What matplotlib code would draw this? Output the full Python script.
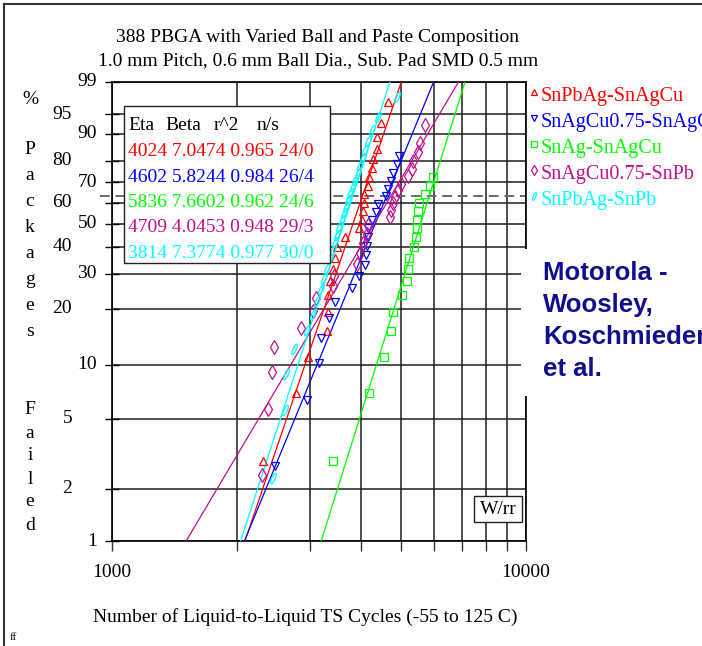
import numpy as np
import matplotlib
matplotlib.use("Agg")
import matplotlib.pyplot as plt
from matplotlib.path import Path
from matplotlib.lines import Line2D
from matplotlib.patches import Rectangle
from matplotlib.markers import MarkerStyle

plt.rcParams['font.family'] = ['Liberation Serif', 'DejaVu Serif']

# ---------------- data ----------------
series_names = ["SnPbAg-SnAgCu", "SnAgCu0.75-SnAgCu", "SnAg-SnAgCu",
                "SnAgCu0.75-SnPb", "SnPbAg-SnPb"]
series_colors = ["#ff0000", "#0000ff", "#00ff00", "#c0108c", "#00ffff"]

eta = [4024, 4602, 5836, 4709, 3814]
beta = [7.0474, 5.8244, 7.6602, 4.0453, 7.3774]
r2 = ["0.965", "0.984", "0.962", "0.948", "0.977"]
n_s = ["24/0", "26/4", "24/6", "29/3", "30/0"]

red_cycles = [2312, 2782, 2981, 3311, 3317, 3320, 3362, 3411, 3456, 3490, 3655, 3957,
              4010, 4030, 4068, 4070, 4160, 4183, 4240, 4264, 4360, 4373, 4457, 4634]
red_pct = [2.9, 7.0, 11.1, 15.2, 19.3, 23.4, 27.5, 31.6, 35.7, 39.8, 43.9, 48.0,
           52.0, 56.1, 60.2, 64.3, 68.4, 72.5, 76.6, 80.7, 84.8, 88.9, 93.0, 97.1]

blue_cycles = [2475, 2963, 3162, 3192, 3350, 3456, 3805, 3957, 4083, 4100, 4120,
               4150, 4160, 4250, 4350, 4400, 4600, 4650, 4720, 4780, 4880, 4940]
blue_pct = [2.7, 6.4, 10.2, 14.0, 17.8, 21.6, 25.4, 29.2, 33.0, 36.7, 40.5,
            44.3, 48.1, 51.9, 55.7, 59.5, 63.3, 67.0, 70.8, 74.6, 78.4, 82.2]

green_cycles = [3411, 4183, 4540, 4720, 4781, 5010, 5168, 5196, 5225,
                5363, 5424, 5440, 5464, 5490, 5530, 5692, 5862, 5970]
green_pct = [2.9, 7.0, 11.1, 15.2, 19.3, 23.4, 27.5, 31.6, 35.7,
             39.8, 43.9, 48.0, 52.0, 56.1, 60.2, 64.3, 68.4, 72.5]

magenta_cycles = [2299, 2385, 2430, 2466, 2861, 3063, 3110, 3424, 3443, 3900, 3968,
                  4045, 4121, 4160, 4694, 4718, 4760, 4827, 4916, 5000, 5196, 5295,
                  5343, 5494, 5550, 5702]
magenta_pct = [2.4, 5.7, 9.2, 12.6, 15.9, 19.5, 22.8, 26.1, 29.3, 33.5, 37.5,
               41.5, 45.5, 49.5, 53.0, 56.5, 60.0, 63.0, 66.5, 69.5, 73.0, 76.5,
               80.0, 83.5, 87.0, 92.5]

cyan_cycles = [2453, 2618, 2633, 2752, 2953, 3063, 3130, 3200, 3260, 3310, 3360,
               3410, 3450, 3500, 3540, 3590, 3630, 3670, 3720, 3760, 3810, 3860,
               3920, 3980, 4030, 4080, 4150, 4250, 4398, 4873]
cyan_pct = [2.3, 5.6, 8.9, 12.2, 15.5, 18.8, 22.0, 25.3, 28.6, 31.9, 35.2,
            38.5, 41.8, 45.1, 48.4, 51.6, 54.9, 58.2, 61.5, 64.8, 68.1, 71.4,
            74.7, 78.0, 81.3, 84.5, 87.8, 91.1, 94.4, 97.7]

y_ticks = [1, 2, 5, 10, 20, 30, 40, 50, 60, 70, 80, 90, 95, 99]
y_near = [1, 10, 30, 50, 70, 90, 99]
x_ticks = [1000, 2000, 3000, 4000, 5000, 6000, 7000, 8000, 9000, 10000]
x_labels = {1000: "1000", 10000: "10000"}
char_life_pct = 63.2

# ---------------- figure geometry ----------------
W, H = 702, 646
fig = plt.figure(figsize=(W / 100, H / 100), dpi=100)
L, R, T, B = 112, 526, 82, 541
ax = fig.add_axes([L / W, 1 - B / H, (R - L) / W, (B - T) / H])


def fx(px):
    return px / W


def fy(py):
    return 1 - py / H


def weib_fwd(p):
    p = np.clip(np.asarray(p, dtype=float), 1e-6, 100 - 1e-6)
    return np.log(-np.log(1 - p / 100.0))


def weib_inv(y):
    return 100.0 * (1 - np.exp(-np.exp(np.asarray(y, dtype=float))))


ax.set_xscale('log')
ax.set_yscale('function', functions=(weib_fwd, weib_inv))
ax.set_xlim(1000, 10000)
ax.set_ylim(1, 99)

grid_col = "#1e1e1e"
ax.set_yticks(y_ticks)
ax.set_yticklabels([""] * len(y_ticks))
ax.set_xticks(x_ticks)
ax.set_xticklabels([x_labels.get(t, "") for t in x_ticks], fontsize=14)
ax.xaxis.set_minor_locator(matplotlib.ticker.NullLocator())
ax.yaxis.set_minor_locator(matplotlib.ticker.NullLocator())
ax.tick_params(axis='y', direction='inout', length=10, width=1, color='black')
ax.tick_params(axis='x', direction='out', length=7.5, width=1, color='#333333', pad=9)
ax.grid(True, which='major', color=grid_col, linewidth=1.1)
ax.set_axisbelow(True)
for side in ['left', 'bottom', 'top', 'right']:
    ax.spines[side].set_color('black')
    ax.spines[side].set_linewidth(1.2)

# staggered percent labels
for t in y_ticks:
    xa = (97 - L) / (R - L) if t in y_near else (72 - L) / (R - L)
    ax.text(xa, t, str(t), transform=ax.get_yaxis_transform(), ha='right',
            va='center', fontsize=14, clip_on=False)

# characteristic-life reference line
ax.plot([10 ** (3 - 12 / 414), 10000], [char_life_pct, char_life_pct], ls=(0, (5, 3)),
        color='#6a6a6a', lw=1.4, clip_on=False, zorder=2)

# fitted Weibull lines from the table parameters
f_ends = np.array([1.0, 99.0])
for e, b, c in zip(eta, beta, series_colors):
    xs = e * (-np.log(1 - f_ends / 100.0)) ** (1.0 / b)
    ax.plot(xs, f_ends, color=c, lw=0.9, zorder=3)

# slanted narrow ellipse marker
tt = np.linspace(0, 2 * np.pi, 40)
ex, ey = 0.3 * np.cos(tt), np.sin(tt)
ang = np.deg2rad(-25)
rx = ex * np.cos(ang) - ey * np.sin(ang)
ry = ex * np.sin(ang) + ey * np.cos(ang)
ellipse_marker = MarkerStyle(Path(np.column_stack([rx, ry]), closed=True))

markers = ['^', 'v', 's', 'd', ellipse_marker]
msizes = [6.2, 6.2, 5.5, 7.0, 7.5]
data = [(red_cycles, red_pct), (blue_cycles, blue_pct), (green_cycles, green_pct),
        (magenta_cycles, magenta_pct), (cyan_cycles, cyan_pct)]
for (xs, ys), m, ms, c in zip(data, markers, msizes, series_colors):
    ax.plot(xs, ys, ls='none', marker=m, ms=ms, mfc='none', mec=c, mew=0.9, zorder=4)

# parameter table
tbl_x0, tbl_y0, tbl_x1, tbl_y1 = 124, 106, 330, 263
fig.add_artist(Rectangle((fx(tbl_x0), fy(tbl_y1)), fx(tbl_x1) - fx(tbl_x0),
                         fy(tbl_y0) - fy(tbl_y1), transform=fig.transFigure,
                         facecolor='white', edgecolor='#222222', lw=1.0, zorder=10))
for hx, ht in zip([128, 165, 214, 257], ["Eta", "Beta", "r^2", "n/s"]):
    fig.text(fx(hx), fy(125), ht, fontsize=14, va='center', ha='left', zorder=11)
row_y = [151, 177, 202, 227, 253]
for i in range(5):
    fig.text(fx(128), fy(row_y[i]), f"{eta[i]} {beta[i]:.4f} {r2[i]} {n_s[i]}",
             color=series_colors[i], fontsize=14, va='center', ha='left', zorder=11)

# series key on the right
key_y = [97, 123, 149, 175, 201]
key_ms = [4.5, 4.5, 4.2, 4.8, 5.5]
for i in range(5):
    fig.add_artist(Line2D([fx(534)], [fy(key_y[i] - 5)], transform=fig.transFigure,
                          ls='none', marker=markers[i], ms=key_ms[i], mfc='none',
                          mec=series_colors[i], mew=0.9))
    fig.text(fx(541), fy(key_y[i]), series_names[i], color=series_colors[i],
             fontsize=14.5, va='center', ha='left')

# white panel behind the attribution text
fig.add_artist(Rectangle((fx(521), fy(396)), fx(W) - fx(521), fy(249) - fy(396),
                         transform=fig.transFigure, facecolor='white',
                         edgecolor='none', zorder=5))
attrib_lines = ["Motorola -", "Woosley,", "Koschmieder", "et al."]
attrib_y = [273, 305, 337, 369]
for s, py in zip(attrib_lines, attrib_y):
    fig.text(fx(543), fy(py), s, color='#10108c', fontsize=18.5, fontweight='bold',
             ha='left', va='center', family=['Liberation Sans', 'DejaVu Sans'],
             zorder=6)

# W/rr box
fig.add_artist(Rectangle((fx(474), fy(522)), fx(522) - fx(474), fy(496) - fy(522),
                         transform=fig.transFigure, facecolor='white',
                         edgecolor='#222222', lw=1.0, zorder=10))
fig.text(fx(498), fy(509), "W/rr", fontsize=14, ha='center', va='center', zorder=11)

# titles
fig.text(fx(318), fy(37), "388 PBGA with Varied Ball and Paste Composition",
         fontsize=14, ha='center', va='center')
fig.text(fx(318), fy(61), "1.0 mm Pitch, 0.6 mm Ball Dia., Sub. Pad SMD 0.5 mm",
         fontsize=14, ha='center', va='center')

# axis titles
fig.text(fx(305), fy(617), "Number of Liquid-to-Liquid TS Cycles (-55 to 125 C)",
         fontsize=14, ha='center', va='center')
ylab_chars = ["%", "P", "a", "c", "k", "a", "g", "e", "s", "F", "a", "i", "l", "e", "d"]
ylab_pos = [100, 149, 175, 201, 227, 253, 279, 305, 331, 410, 433, 456, 479, 502, 525]
for ch, py in zip(ylab_chars, ylab_pos):
    fig.text(fx(30), fy(py), ch, fontsize=14, ha='center', va='center')

fig.text(fx(10), fy(638), "ff", fontsize=8, ha='left', va='center')

# outer frame (left and top edges)
fig.add_artist(Line2D([fx(4), fx(4)], [fy(4), 0], transform=fig.transFigure,
                      color='#333333', lw=1.5))
fig.add_artist(Line2D([fx(4), 1], [fy(4), fy(4)], transform=fig.transFigure,
                      color='#333333', lw=1.5))

fig.savefig("out.png", dpi=100)
